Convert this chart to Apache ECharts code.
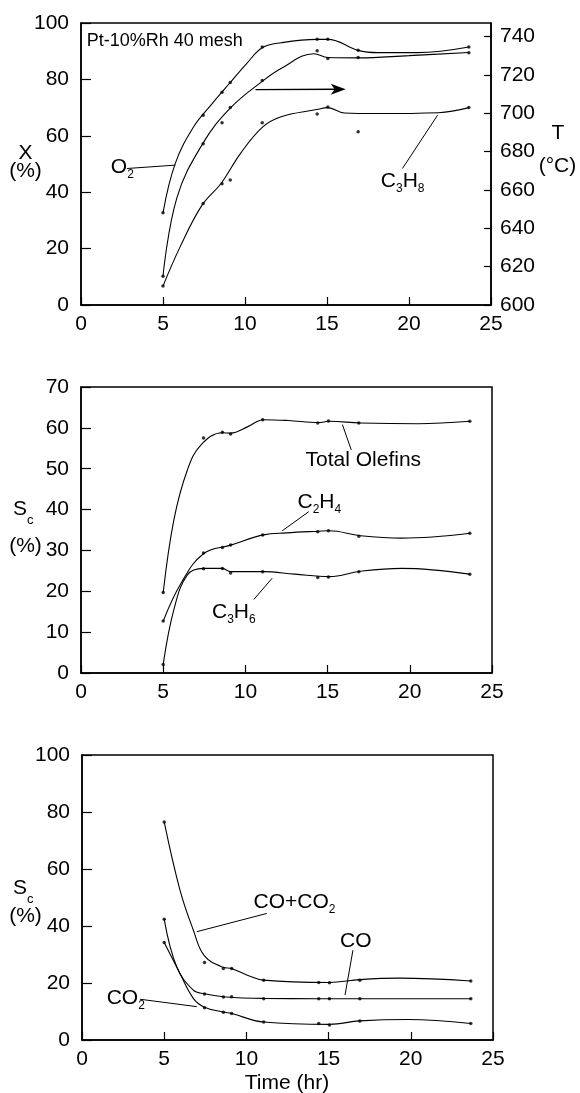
<!DOCTYPE html>
<html><head><meta charset="utf-8">
<script src="https://cdn.jsdelivr.net/npm/echarts@6/dist/echarts.min.js"></script>
<style>html,body{margin:0;padding:0;background:#fff}#c{width:580px;height:1093px}</style>
</head><body><div id="c"></div>
<script>
// ---------- DATA ----------
const time = [5, 7.45, 8.6, 9.1, 11.05, 14.4, 15.05, 16.9, 23.65];
const xTickLabels = [0, 5, 10, 15, 20, 25];

// Panel 1: conversion X (%) and temperature T (°C)
const o2Conv   = [32.7, 67.3, 75.4, 78.9, 91.5, 94.2, 94.2, 90.3, 91.5];
const c3h8Conv = [6.7, 36.0, 43.0, 44.3, 64.6, 67.7, 70.2, 61.4, 70.0];
const tempC    = [615, 684, 695, 703, 717, 732.5, 728.5, 729, 731.5];

const o2CurveTime = [5, 5.75, 6.87, 8, 9.1, 10.1, 11.05, 12.2, 14.4, 15.05, 16.9, 18.1, 20.5, 23.65];
const o2CurveVal  = [32.7, 50.2, 63.2, 71.4, 78.9, 85.6, 91.2, 93.0, 94.2, 94.2, 90.3, 89.5, 89.5, 91.5];
const tempCurveTime = [5, 5.85, 7.45, 9.1, 11.05, 12.2, 14.2, 15.05, 16.9, 20, 23.65];
const tempCurveVal  = [615, 656, 684.5, 702.6, 716.6, 723.3, 731, 729, 728.8, 730, 731.6];
const c3h8CurveTime = [5, 6.05, 7.38, 8.54, 9.72, 11.05, 12.16, 14.37, 15.04, 16.06, 18, 21.8, 23.65];
const c3h8CurveVal  = [6.7, 20.7, 35.4, 43.1, 53.7, 63.0, 66.7, 69.3, 70.0, 68.1, 67.9, 68.2, 70.0];

// Panel 2: selectivity Sc (%) to olefins
const olefinsSel = [19.7, 57.5, 58.9, 58.5, 62.0, 61.2, 61.7, 61.2, 61.6];
const c2h4Sel    = [12.7, 29.4, 30.7, 31.3, 33.8, 34.6, 34.8, 33.5, 34.2];
const c3h6Sel    = [2.1, 25.5, 25.6, 24.5, 24.8, 23.4, 23.5, 24.8, 24.2];

const olefinsCurveTime = [5, 5.65, 6.47, 7.29, 8.6, 9.1, 10.15, 11.1, 12.6, 14.45, 15.1, 17, 20.5, 23.65];
const olefinsCurveVal  = [19.7, 37.5, 49.7, 55.8, 58.8, 58.7, 60.3, 62.0, 61.8, 61.3, 61.6, 61.2, 61.0, 61.6];
const c2h4CurveTime = [5, 6.06, 7.45, 9.1, 11.1, 12.5, 14.45, 15.1, 17, 19.5, 23.65];
const c2h4CurveVal  = [12.7, 21.8, 29.2, 31.3, 33.8, 34.3, 34.7, 34.8, 33.6, 33.0, 34.2];
const c3h6CurveTime = [5, 5.65, 6.47, 7.45, 8.6, 9.1, 11.1, 13, 15.1, 17, 19.5, 23.65];
const c3h6CurveVal  = [2.1, 15.5, 24, 25.6, 25.6, 24.8, 24.8, 24.2, 23.6, 24.9, 25.6, 24.2];

// Panel 3: selectivity Sc (%) to oxides
const coxSel = [76.5, 27.2, 25.1, 25.1, 21.0, 20.2, 20.1, 21.0, 20.7];
const coSel  = [42.4, 16.1, 15.1, 15.2, 14.5, 14.5, 14.5, 14.5, 14.5];
const co2Sel = [34.2, 11.3, 9.7, 9.3, 6.3, 5.8, 5.3, 6.7, 5.8];

const coxCurveTime = [5, 5.96, 6.77, 7.45, 8.6, 9.1, 10.02, 11.05, 15.05, 16.9, 19.3, 23.65];
const coxCurveVal  = [76.5, 52.6, 38.6, 29.5, 25.5, 25.1, 22.8, 21.0, 20.2, 21.2, 21.7, 20.7];
const coCurveTime = [5, 5.76, 6.77, 7.45, 8.6, 11.05, 14.4, 23.65];
const coCurveVal  = [42.4, 25.7, 17.5, 16.2, 15.2, 14.6, 14.5, 14.5];
const co2CurveTime = [5, 5.86, 6.77, 7.45, 8.6, 9.1, 11.05, 15.05, 16.9, 19.8, 23.65];
const co2CurveVal  = [34.2, 24.5, 14.6, 11.5, 9.8, 9.3, 6.3, 5.5, 6.7, 7.2, 5.8];

// ---------- CHART ----------
const FONT = '"Liberation Sans", Arial, Helvetica, sans-serif';
const chart = echarts.init(document.getElementById('c'), null, {renderer: 'canvas'});

function xAx(g) {
  return { type: 'value', gridIndex: g, min: 0, max: 25, interval: 5,
    axisLine: {show: true, onZero: false, lineStyle: {color: '#000', width: 1.5}},
    axisTick: {show: true, inside: true, length: 8, lineStyle: {color: '#000', width: 1.2}},
    axisLabel: {color: '#000', fontSize: 21, fontFamily: FONT, margin: 9, showMinLabel: true, showMaxLabel: true},
    splitLine: {show: false} };
}
function yAx(g, min, max, interval, pos) {
  return { type: 'value', gridIndex: g, position: pos, min, max, interval,
    axisLine: {show: true, onZero: false, lineStyle: {color: '#000', width: 1.5}},
    axisTick: {show: true, inside: true, length: pos === 'left' ? 10 : 7, lineStyle: {color: '#000', width: 1.2}},
    axisLabel: {color: '#000', fontSize: 21, fontFamily: FONT, margin: pos === 'left' ? 12 : 9},
    splitLine: {show: false} };
}
function curve(xi, yi, ts, vs) {
  return {type: 'line', xAxisIndex: xi, yAxisIndex: yi, data: ts.map((t, i) => [t, vs[i]]),
    smooth: 0.4, showSymbol: false, symbol: 'none',
    lineStyle: {color: '#000', width: 1.1}, silent: true, animation: false, z: 3};
}
function pts(xi, yi, vs) {
  return {type: 'scatter', xAxisIndex: xi, yAxisIndex: yi, data: time.map((t, i) => [t, vs[i]]),
    symbol: 'circle', symbolSize: 3.5, itemStyle: {color: '#000'}, silent: true, animation: false, z: 4};
}

const gridStyle = {show: true, borderColor: '#000', borderWidth: 1.5, containLabel: false};
const rightAxis = yAx(0, 600, 747, 20, 'right');
rightAxis.axisLabel.showMaxLabel = false;

chart.setOption({
  animation: false,
  backgroundColor: '#fff',
  textStyle: {fontFamily: FONT},
  grid: [
    Object.assign({left: 81, top: 23, width: 410, height: 282}, gridStyle),
    Object.assign({left: 81, top: 387, width: 411, height: 286}, gridStyle),
    Object.assign({left: 82, top: 755, width: 411, height: 285}, gridStyle)
  ],
  xAxis: [xAx(0), xAx(1), xAx(2)],
  yAxis: [
    yAx(0, 0, 100, 20, 'left'),
    rightAxis,
    yAx(1, 0, 70, 10, 'left'),
    yAx(2, 0, 100, 20, 'left')
  ],
  series: [
    curve(0, 0, o2CurveTime, o2CurveVal), pts(0, 0, o2Conv),
    curve(0, 1, tempCurveTime, tempCurveVal), pts(0, 1, tempC),
    curve(0, 0, c3h8CurveTime, c3h8CurveVal), pts(0, 0, c3h8Conv),
    curve(1, 2, olefinsCurveTime, olefinsCurveVal), pts(1, 2, olefinsSel),
    curve(1, 2, c2h4CurveTime, c2h4CurveVal), pts(1, 2, c2h4Sel),
    curve(1, 2, c3h6CurveTime, c3h6CurveVal), pts(1, 2, c3h6Sel),
    curve(2, 3, coxCurveTime, coxCurveVal), pts(2, 3, coxSel),
    curve(2, 3, coCurveTime, coCurveVal), pts(2, 3, coSel),
    curve(2, 3, co2CurveTime, co2CurveVal), pts(2, 3, co2Sel)
  ]
});

// ---------- ANNOTATIONS (anchored in data coordinates) ----------
const RICH = {
  m: {fontSize: 21, fontFamily: FONT, lineHeight: 21, verticalAlign: 'top', fill: '#000', color: '#000'},
  s: {fontSize: 12, fontFamily: FONT, lineHeight: 24, verticalAlign: 'bottom', fill: '#000', color: '#000'},
  c: {fontSize: 13, fontFamily: FONT, lineHeight: 28, verticalAlign: 'bottom', fill: '#000', color: '#000'}
};
const seriesLabels = [
  {xi: 0, yi: 0, at: [0.35, 93.6], text: 'Pt-10%Rh 40 mesh', size: 18},
  {xi: 0, yi: 0, at: [1.82, 48.4], text: '{m|O}{s|2}'},
  {xi: 0, yi: 0, at: [18.28, 43.2], text: '{m|C}{s|3}{m|H}{s|8}'},
  {xi: 1, yi: 2, at: [13.66, 52.2], text: 'Total Olefins', size: 21},
  {xi: 1, yi: 2, at: [13.17, 41.5], text: '{m|C}{s|2}{m|H}{s|4}'},
  {xi: 1, yi: 2, at: [7.97, 14.5], text: '{m|C}{s|3}{m|H}{s|6}'},
  {xi: 2, yi: 3, at: [10.43, 47.8], text: '{m|CO+CO}{s|2}'},
  {xi: 2, yi: 3, at: [15.7, 34.7], text: 'CO', size: 21},
  {xi: 2, yi: 3, at: [1.5, 14.2], text: '{m|CO}{s|2}'}
];
const leaderLines = [
  {xi: 0, yi: 0, from: [2.8, 48.4], to: [5.75, 49.6]},
  {xi: 0, yi: 0, from: [19.6, 48.4], to: [21.74, 67.3]},
  {xi: 1, yi: 2, from: [16.44, 54.6], to: [15.9, 60.8]},
  {xi: 1, yi: 2, from: [13.86, 39.5], to: [12.24, 34.8]},
  {xi: 1, yi: 2, from: [10.51, 18.0], to: [11.63, 23.2]},
  {xi: 2, yi: 3, from: [11.24, 44.4], to: [6.98, 38.0]},
  {xi: 2, yi: 3, from: [16.48, 31.5], to: [16.0, 15.8]},
  {xi: 2, yi: 3, from: [3.53, 14.3], to: [6.98, 11.7]}
];
const tempArrow = {xi: 0, yi: 0, from: [10.64, 76.4], to: [16.14, 76.5]};

function px(xi, yi, p) { return chart.convertToPixel({xAxisIndex: xi, yAxisIndex: yi}, p); }
const g = [];
seriesLabels.forEach(l => {
  const p = px(l.xi, l.yi, l.at);
  const isRich = l.text.indexOf('{') === 0;
  g.push({type: 'text', x: p[0], y: p[1], silent: true, z: 10,
    style: isRich
      ? {text: l.text, rich: RICH, fill: '#000', align: 'left', verticalAlign: 'middle', fontFamily: FONT}
      : {text: l.text, fontSize: l.size, fontFamily: FONT, fill: '#000', align: 'left', verticalAlign: 'middle'}});
});
leaderLines.forEach(l => {
  const a = px(l.xi, l.yi, l.from), b = px(l.xi, l.yi, l.to);
  g.push({type: 'line', silent: true, z: 10, shape: {x1: a[0], y1: a[1], x2: b[0], y2: b[1]},
    style: {stroke: '#000', lineWidth: 1}});
});
(function () {
  const a = px(tempArrow.xi, tempArrow.yi, tempArrow.from), b = px(tempArrow.xi, tempArrow.yi, tempArrow.to);
  g.push({type: 'line', silent: true, z: 10, shape: {x1: a[0], y1: a[1], x2: b[0] - 8, y2: b[1]},
    style: {stroke: '#000', lineWidth: 1.3}});
  g.push({type: 'polygon', silent: true, z: 10,
    shape: {points: [[b[0], b[1]], [b[0] - 15, b[1] - 5.5], [b[0] - 11, b[1]], [b[0] - 15, b[1] + 5.5]]},
    style: {fill: '#000'}});
})();
// axis titles
const titleTexts = [
  {x: 25.5, y: 153.5, text: 'X'},
  {x: 25.5, y: 171, text: '(%)'},
  {x: 558, y: 133.5, text: 'T'},
  {x: 557.5, y: 166, text: '(°C)'},
  {x: 25.5, y: 546, text: '(%)'},
  {x: 25.5, y: 916, text: '(%)'},
  {x: 287, y: 1083, text: 'Time (hr)'}
];
titleTexts.forEach(t => g.push({type: 'text', x: t.x, y: t.y, silent: true, z: 10,
  style: {text: t.text, fontSize: 21, fontFamily: FONT, fill: '#000', align: 'center', verticalAlign: 'middle'}}));
[{x: 13, y: 513}, {x: 13, y: 891.5}].forEach(t => g.push({type: 'text', x: t.x, y: t.y, silent: true, z: 10,
  style: {text: '{m|S}{c|c}', rich: RICH, fill: '#000', align: 'left', verticalAlign: 'middle', fontFamily: FONT}}));

chart.setOption({graphic: g});
</script></body></html>
